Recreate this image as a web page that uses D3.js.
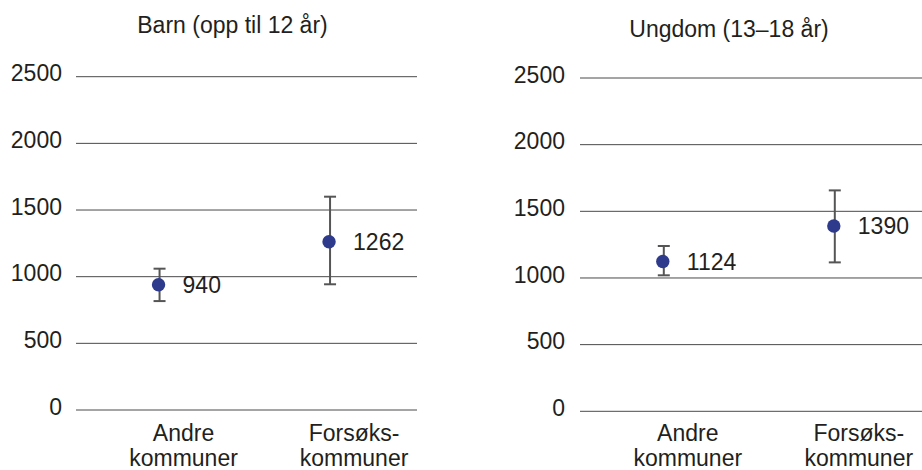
<!DOCTYPE html>
<html>
<head>
<meta charset="utf-8">
<script src="https://cdn.jsdelivr.net/npm/d3@7/dist/d3.min.js"></script>
<style>
  html, body { margin: 0; padding: 0; background: #fff; }
  svg text { font-family: "Liberation Sans", Arial, Helvetica, sans-serif; fill: #231f20; }
</style>
</head>
<body>
<svg id="chart" width="922" height="470"></svg>
<script>
// ---- data ----
const categories = ["Andre kommuner", "Forsøkskommuner"];
const categoryLines = [["Andre", "kommuner"], ["Forsøks-", "kommuner"]];
const panelTitles = ["Barn (opp til 12 år)", "Ungdom (13–18 år)"];
const barnMean = [940, 1262];
const barnLow = [817, 943];
const barnHigh = [1060, 1600];
const ungdomMean = [1124, 1390];
const ungdomLow = [1020, 1117];
const ungdomHigh = [1240, 1657];
const yTicks = [0, 500, 1000, 1500, 2000, 2500];

// ---- layout ----
const panels = [
  { title: panelTitles[0], mean: barnMean, low: barnLow, high: barnHigh,
    x0: 76, x1: 417, yTop: 76.7, yBottom: 410, titleX: 232.5, titleY: 33, labelRight: 62 },
  { title: panelTitles[1], mean: ungdomMean, low: ungdomLow, high: ungdomHigh,
    x0: 580, x1: 922, yTop: 78, yBottom: 411.3, titleX: 729, titleY: 36.7, labelRight: 565 }
];

const svg = d3.select("#chart");
const fontSize = 23;
const pointColor = "#2e3a8c";
const errColor = "#555555";
const gridColor = "#4a4a4a";

panels.forEach(p => {
  const g = svg.append("g");
  const y = d3.scaleLinear().domain([0, 2500]).range([p.yBottom, p.yTop]);
  const x = d3.scalePoint().domain(categories).range([p.x0 - 2.7, p.x1 - 2.7]).padding(0.5);

  // title
  g.append("text")
    .attr("x", p.titleX).attr("y", p.titleY)
    .attr("text-anchor", "middle")
    .style("font-size", "23px")
    .text(p.title);

  // gridlines
  g.selectAll("line.grid").data(yTicks).enter().append("line")
    .attr("class", "grid")
    .attr("x1", p.x0).attr("x2", p.x1)
    .attr("y1", d => y(d)).attr("y2", d => y(d))
    .attr("stroke", gridColor).attr("stroke-width", 1);

  // y tick labels
  g.selectAll("text.ytick").data(yTicks).enter().append("text")
    .attr("class", "ytick")
    .attr("x", p.labelRight).attr("y", d => y(d))
    .attr("dy", "0.2em")
    .attr("text-anchor", "end")
    .style("font-size", fontSize + "px")
    .text(d => d);

  // category labels
  categories.forEach((c, i) => {
    const t = g.append("text")
      .attr("text-anchor", "middle")
      .style("font-size", fontSize + "px");
    categoryLines[i].forEach((line, j) => {
      t.append("tspan")
        .attr("x", x(c) + 25)
        .attr("y", 441 + j * 25)
        .text(line);
    });
  });

  // error bars
  const eb = g.selectAll("g.eb").data(categories).enter().append("g").attr("class", "eb");
  eb.append("line")
    .attr("x1", c => x(c) + 1).attr("x2", c => x(c) + 1)
    .attr("y1", (c, i) => y(p.low[i])).attr("y2", (c, i) => y(p.high[i]))
    .attr("stroke", errColor).attr("stroke-width", 2);
  eb.append("line")
    .attr("x1", c => x(c) - 5).attr("x2", c => x(c) + 7)
    .attr("y1", (c, i) => y(p.high[i])).attr("y2", (c, i) => y(p.high[i]))
    .attr("stroke", errColor).attr("stroke-width", 2);
  eb.append("line")
    .attr("x1", c => x(c) - 5).attr("x2", c => x(c) + 7)
    .attr("y1", (c, i) => y(p.low[i])).attr("y2", (c, i) => y(p.low[i]))
    .attr("stroke", errColor).attr("stroke-width", 2);

  // points
  g.selectAll("circle").data(categories).enter().append("circle")
    .attr("cx", c => x(c)).attr("cy", (c, i) => y(p.mean[i]))
    .attr("r", 6.7)
    .attr("fill", pointColor);

  // value labels
  g.selectAll("text.val").data(categories).enter().append("text")
    .attr("class", "val")
    .attr("x", c => x(c) + 24).attr("y", (c, i) => y(p.mean[i]))
    .attr("dy", "0.36em")
    .style("font-size", fontSize + "px")
    .text((c, i) => p.mean[i]);
});
</script>
</body>
</html>
